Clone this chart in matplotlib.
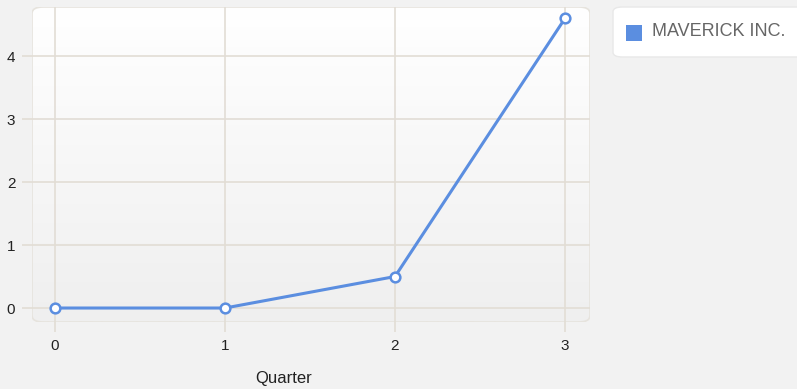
import numpy as np
import matplotlib.pyplot as plt
from matplotlib.colors import LinearSegmentedColormap
from matplotlib.patches import FancyBboxPatch, Rectangle

plt.rcParams['font.family'] = ['Liberation Sans', 'DejaVu Sans']

# datos
quarters = [0, 1, 2, 3]
values = [0.0, 0.0, 0.5, 4.6]
series_name = "MAVERICK INC."

line_color = "#5b8ee0"
grid_color = "#e2ddd5"
text_color = "#222222"

fig = plt.figure(figsize=(7.97, 3.89), dpi=100)
fig.patch.set_facecolor("#f2f2f2")

ax = fig.add_axes([32 / 797, 67 / 389, 558 / 797, 315 / 389])
ax.set_facecolor("none")
for s in ax.spines.values():
    s.set_visible(False)

# fondo con degradado y esquinas redondeadas
box = FancyBboxPatch((0, 0), 1, 1, boxstyle="round,pad=0,rounding_size=0.02",
                     transform=ax.transAxes, facecolor="none",
                     edgecolor="#e6e3dd", linewidth=1.2, zorder=0.5)
ax.add_patch(box)
grad = np.linspace(1.0, 0.0, 256).reshape(-1, 1)
cmap = LinearSegmentedColormap.from_list("g", ["#efefef", "#ffffff"])
im = ax.imshow(grad, cmap=cmap, aspect="auto", extent=[0, 1, 0, 1],
               transform=ax.transAxes, zorder=0.1, interpolation="bilinear")
im.set_clip_path(box)

ax.set_xlim(-0.135, 3.147)
ax.set_ylim(-0.222, 4.78)
ax.set_xticks(quarters)
ax.set_yticks([0, 1, 2, 3, 4])
ax.grid(True, color=grid_color, linewidth=1.2, zorder=1)
ax.tick_params(axis="both", length=7, width=1.2, color=grid_color,
               labelsize=11, labelcolor=text_color)
ax.tick_params(axis="x", pad=5)
ax.tick_params(axis="y", pad=5)
ax.set_axisbelow(True)

ax.plot(quarters, values, color=line_color, linewidth=2.2, marker="o",
        markersize=7, markerfacecolor="white", markeredgecolor=line_color,
        markeredgewidth=1.8, zorder=3, clip_on=False)

fig.text(284 / 797, 1 - 378 / 389, "Quarter", ha="center", va="center",
         fontsize=12, color=text_color)

# leyenda
leg_box = FancyBboxPatch((613 / 797, 1 - 57 / 389), 200 / 797, 50 / 389,
                         boxstyle="round,pad=0,rounding_size=0.012",
                         transform=fig.transFigure, facecolor="white",
                         edgecolor="#e8e8e8", linewidth=1)
fig.patches.append(leg_box)
fig.patches.append(Rectangle((626 / 797, 1 - 41 / 389), 16 / 797, 16 / 389,
                             transform=fig.transFigure, facecolor=line_color,
                             edgecolor="none"))
fig.text(652 / 797, 1 - 32 / 389, series_name, ha="left", va="center",
         fontsize=13, color="#666666")

fig.savefig("out.png", dpi=100, facecolor=fig.get_facecolor())
